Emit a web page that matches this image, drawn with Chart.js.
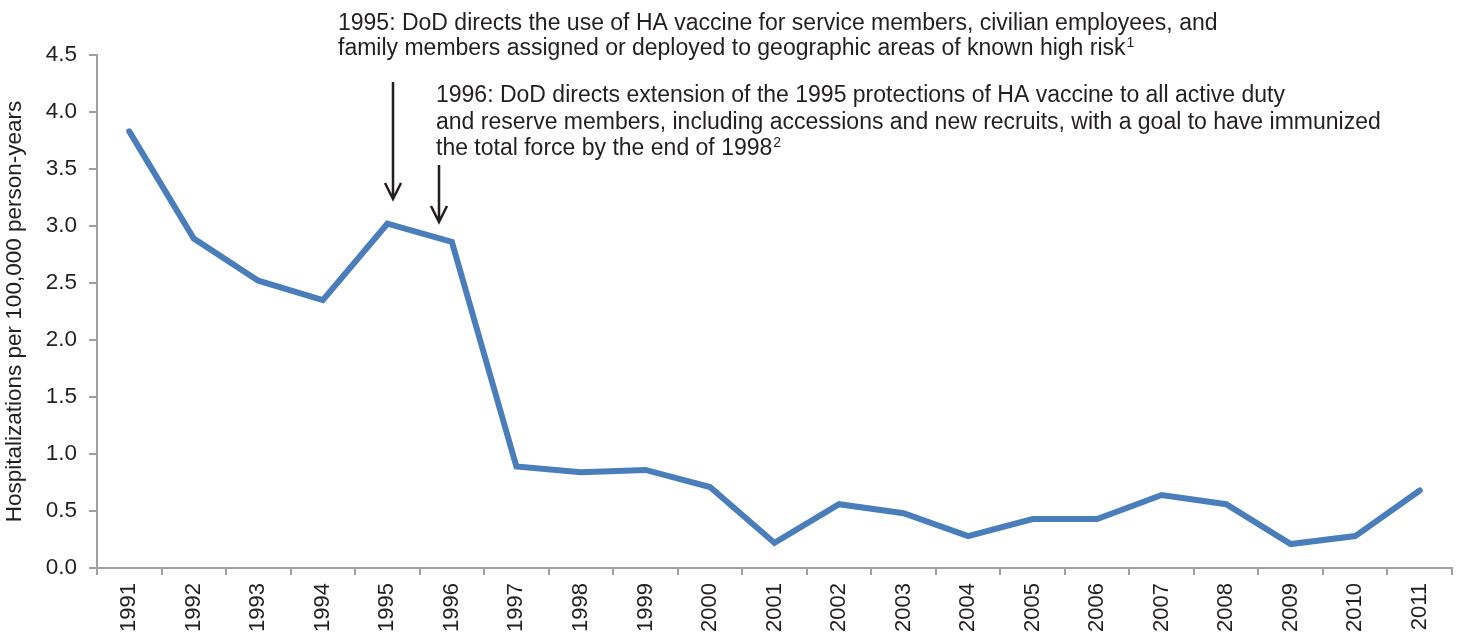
<!DOCTYPE html>
<html><head><meta charset="utf-8">
<script src="https://cdn.jsdelivr.net/npm/chart.js@4"></script>
<style>html,body{margin:0;padding:0;background:#fff}#wrap{width:1463px;height:632px;position:relative}</style>
</head><body><div id="wrap"><canvas id="c" width="1463" height="632"></canvas></div>
<script>
const years = ['1991','1992','1993','1994','1995','1996','1997','1998','1999','2000','2001','2002','2003','2004','2005','2006','2007','2008','2009','2010','2011'];
const rates = [3.83,2.89,2.52,2.35,3.02,2.86,0.89,0.84,0.86,0.71,0.22,0.56,0.48,0.28,0.43,0.43,0.64,0.56,0.21,0.28,0.68];
const yTicks = [0,0.5,1,1.5,2,2.5,3,3.5,4,4.5];
const yTitle = 'Hospitalizations per 100,000 person-years';
const note1 = ['1995: DoD directs the use of HA vaccine for service members, civilian employees, and', 'family members assigned or deployed to geographic areas of known high risk'];
const note1Sup = '1';
const note2 = ['1996: DoD directs extension of the 1995 protections of HA vaccine to all active duty', 'and reserve members, including accessions and new recruits, with a goal to have immunized', 'the total force by the end of 1998'];
const note2Sup = '2';

const FONT = '"Liberation Sans", Arial, sans-serif';
const TXT = '#231f20';
const AX = '#a0a0a0';

const notes = {
  id: 'notes',
  afterDraw(chart) {
    const ctx = chart.ctx;
    ctx.save();
    ctx.fillStyle = TXT;
    ctx.textBaseline = 'alphabetic';
    ctx.textAlign = 'left';
    function block(lines, sup, x, y0, lh) {
      lines.forEach((t, i) => {
        ctx.font = '23px ' + FONT;
        ctx.fillText(t, x, y0 + i * lh);
        if (i === lines.length - 1) {
          const w = ctx.measureText(t).width;
          ctx.font = '14px ' + FONT;
          ctx.fillText(sup, x + w + 1, y0 + i * lh - 8);
        }
      });
    }
    block(note1, note1Sup, 338, 30, 25);
    block(note2, note2Sup, 436, 102, 26.5);
    function arrow(x, y1, y2) {
      ctx.strokeStyle = TXT;
      ctx.lineWidth = 2.5;
      ctx.beginPath();
      ctx.moveTo(x, y1); ctx.lineTo(x, y2);
      ctx.moveTo(x - 8, y2 - 16); ctx.lineTo(x, y2); ctx.lineTo(x + 8, y2 - 16);
      ctx.stroke();
    }
    arrow(393, 82, 199);
    arrow(439, 165, 222);
    ctx.restore();
  }
};

new Chart(document.getElementById('c'), {
  type: 'line',
  data: { labels: years, datasets: [{ data: rates, borderColor: '#4a7ebb', borderWidth: 6, pointRadius: 0, tension: 0, fill: false, borderJoinStyle: 'miter', borderCapStyle: 'round' }] },
  options: {
    responsive: false, animation: false, devicePixelRatio: 1,
    layout: { padding: { top: 55, right: 11, left: 0, bottom: 0 } },
    plugins: { legend: { display: false }, tooltip: { enabled: false } },
    scales: {
      x: {
        offset: true,
        grid: { display: true, drawOnChartArea: false, color: AX, lineWidth: 2, tickLength: 7, offset: true },
        border: { color: AX, width: 2 },
        ticks: { color: TXT, font: { size: 22, family: FONT }, minRotation: 90, maxRotation: 90, padding: 8, autoSkip: false },
        afterFit(s) { s.height = 64; }
      },
      y: {
        min: 0, max: 4.5,
        afterBuildTicks(s) { s.ticks = yTicks.map(v => ({ value: v })); },
        grid: { display: true, drawOnChartArea: false, color: AX, lineWidth: 2, tickLength: 8 },
        border: { color: AX, width: 2 },
        ticks: { color: TXT, font: { size: 22.5, family: FONT }, padding: 12, callback: v => Number(v).toFixed(1) },
        title: { display: true, text: yTitle, color: TXT, font: { size: 22.5, family: FONT }, padding: { top: 1, bottom: 0 } },
        afterFit(s) { s.width = 97; }
      }
    }
  },
  plugins: [notes]
});
</script></body></html>
